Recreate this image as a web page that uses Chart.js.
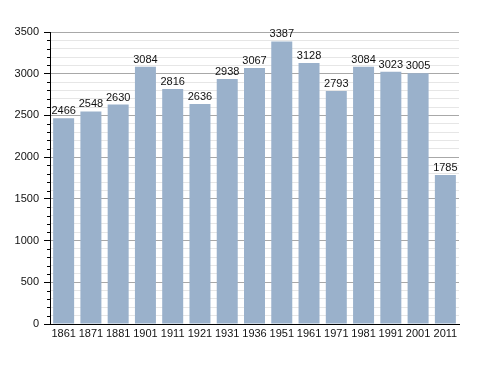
<!DOCTYPE html>
<html>
<head>
<meta charset="utf-8">
<script src="https://cdn.jsdelivr.net/npm/chart.js@4.4.0/dist/chart.umd.min.js"></script>
<style>
  html, body { margin: 0; padding: 0; background: #fff; overflow: hidden; }
  canvas { display: block; }
</style>
</head>
<body>
<canvas id="chart" width="488" height="373"></canvas>
<script>
const years = ["1861", "1871", "1881", "1901", "1911", "1921", "1931", "1936", "1951", "1961", "1971", "1981", "1991", "2001", "2011"];
const population = [2466, 2548, 2630, 3084, 2816, 2636, 2938, 3067, 3387, 3128, 2793, 3084, 3023, 3005, 1785];
const yMax = 3500;
const yStep = 100;
const yLabelStep = 500;

const fontFam = "'Liberation Sans', Arial, sans-serif";
Chart.defaults.font.family = fontFam;
Chart.defaults.font.size = 11;
Chart.defaults.color = '#111';

/* value labels over the bars + short minor ticks */
const extras = {
    id: 'extras',
    afterDatasetsDraw(chart) {
        const ctx = chart.ctx;
        const meta = chart.getDatasetMeta(0);
        ctx.save();
        ctx.fillStyle = '#111';
        ctx.font = "11px " + fontFam;
        ctx.textAlign = 'center';
        ctx.textBaseline = 'alphabetic';
        meta.data.forEach((bar, i) => {
            ctx.fillText(population[i], bar.x, bar.y - 4);
        });
        const y = chart.scales.y;
        ctx.strokeStyle = '#000';
        ctx.lineWidth = 1;
        for (let v = 0; v <= yMax; v += yStep) {
            if (v % yLabelStep === 0) continue;
            const py = Math.round(y.getPixelForValue(v)) + 0.5;
            ctx.beginPath();
            ctx.moveTo(y.right - 3, py);
            ctx.lineTo(y.right, py);
            ctx.stroke();
        }
        ctx.restore();
    }
};

const ctx = document.getElementById('chart').getContext('2d');
const myChart = new Chart(ctx, {
    type: 'bar',
    data: {
        labels: years,
        datasets: [{
            data: population,
            backgroundColor: '#9ab1cb',
            borderWidth: 0,
            barPercentage: 0.77,
            categoryPercentage: 1.0
        }]
    },
    options: {
        responsive: false,
        animation: false,
        layout: { padding: { left: 0, right: 29, top: 32, bottom: 0 } },
        scales: {
            x: {
                grid: { display: false, drawTicks: false },
                border: { display: true, color: '#000', width: 1 },
                ticks: { padding: 3, maxRotation: 0, autoSkip: false },
                afterFit(scale) { scale.height = 49; }
            },
            y: {
                min: 0,
                max: yMax,
                afterFit(scale) { scale.width = 50; },
                border: { display: true, color: '#000', width: 1 },
                grid: {
                    color: (c) => (c.tick && c.tick.value % yLabelStep === 0) ? '#a8a8a8' : '#e6e6e6',
                    tickColor: (c) => (c.tick && c.tick.value % yLabelStep === 0) ? '#000' : 'rgba(0,0,0,0)',
                    tickLength: 6
                },
                ticks: {
                    stepSize: yStep,
                    maxTicksLimit: 100,
                    autoSkip: false,
                    padding: 5,
                    callback: (v) => (v % yLabelStep === 0) ? v : ''
                }
            }
        },
        plugins: {
            legend: { display: false },
            tooltip: { enabled: false }
        }
    },
    plugins: [extras]
});
</script>
</body>
</html>
